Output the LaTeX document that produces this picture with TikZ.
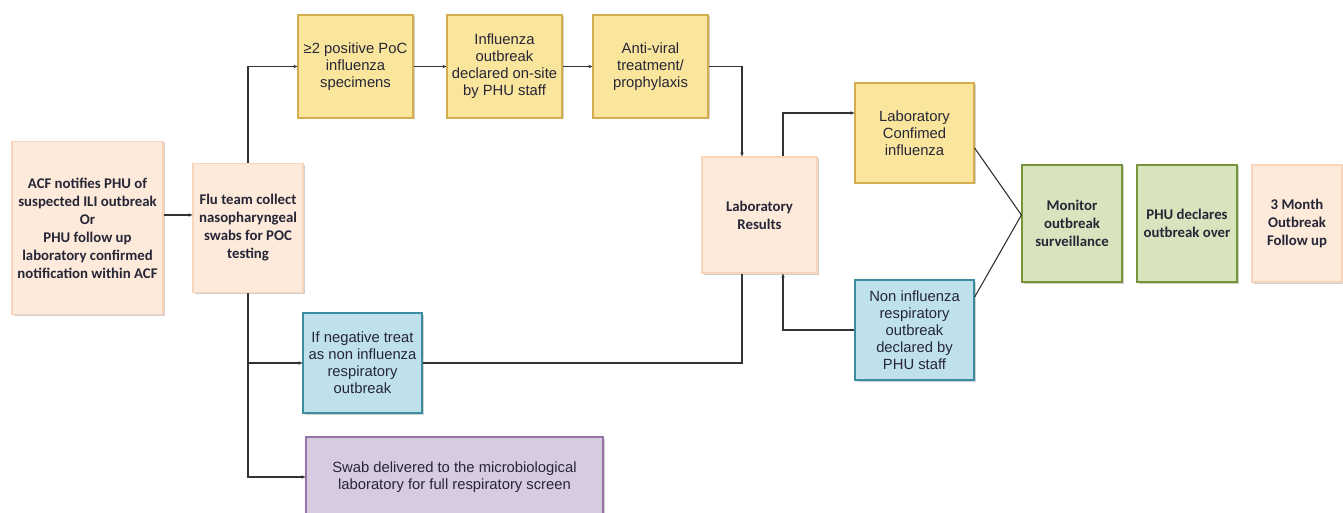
\documentclass[tikz,border=0pt]{standalone}
\usepackage{fontspec}
\setmainfont{Carlito}
\newfontfamily\arialfont{Liberation Sans}
\usetikzlibrary{arrows.meta,positioning,shadows}
\definecolor{ifpeach}{HTML}{FDEADA}
\definecolor{ifpeachline}{HTML}{F8D5BA}
\definecolor{ifyellow}{HTML}{FAE59C}
\definecolor{ifyellowline}{HTML}{D2AE4E}
\definecolor{ifblue}{HTML}{BEE1EC}
\definecolor{ifblueline}{HTML}{3B8DA0}
\definecolor{ifpurple}{HTML}{D6CBE0}
\definecolor{ifpurpleline}{HTML}{9673A6}
\definecolor{ifgreen}{HTML}{D8E4BE}
\definecolor{ifgreenline}{HTML}{77933C}
\definecolor{iftext}{HTML}{262637}

\begin{document}
\begin{tikzpicture}[x=1pt, y=-1pt,
    box/.style={draw, line width=1.2pt, rectangle, align=center, inner sep=2pt, text=iftext,
      drop shadow={shadow xshift=1.5pt, shadow yshift=-1.5pt, fill=black, opacity=0.18}},
    peachbox/.style={box, fill=ifpeach, draw=ifpeachline, font=\fontsize{14.8}{18}\selectfont\bfseries},
    greenbox/.style={box, fill=ifgreen, draw=ifgreenline, font=\fontsize{14.8}{18}\selectfont\bfseries},
    yellowbox/.style={box, fill=ifyellow, draw=ifyellowline, font=\arialfont\fontsize{14.8}{17}\selectfont},
    bluebox/.style={box, fill=ifblue, draw=ifblueline, font=\arialfont\fontsize{14.8}{17}\selectfont},
    purplebox/.style={box, fill=ifpurple, draw=ifpurpleline, font=\arialfont\fontsize{14.8}{17}\selectfont},
    conn/.style={-{Stealth[length=4pt, width=3.5pt]}, line width=1.1pt, draw=black!80},
    plainline/.style={line width=1.1pt, draw=black!80}]
      \useasboundingbox (0,0) rectangle (1343,513);

      % Start of the outbreak
      \node[peachbox, minimum width=151pt, minimum height=173pt] (acf) at (87.5,228)
        {ACF notifies PHU of\\suspected ILI outbreak\\Or\\PHU follow up\\laboratory confirmed\\notification within ACF};
      \node[peachbox, minimum width=110pt, minimum height=129pt] (flu) at (248,228)
        {Flu team collect\\nasopharyngeal\\swabs for POC\\testing};

      % Positive PoC branch
      \node[yellowbox, minimum width=115pt, minimum height=103pt] (pos) at (355.5,66.5)
        {≥2 positive PoC\\influenza\\specimens};
      \node[yellowbox, minimum width=115pt, minimum height=103pt] (decl) at (504.5,66.5)
        {Influenza\\outbreak\\declared on-site\\by PHU staff};
      \node[yellowbox, minimum width=115pt, minimum height=103pt] (anti) at (650.5,66.5)
        {Anti-viral\\treatment/\\prophylaxis};

      % Negative PoC branch
      \node[bluebox, minimum width=119pt, minimum height=100pt] (neg) at (362.5,363)
        {If negative treat\\as non influenza\\respiratory\\outbreak};
      \node[purplebox, minimum width=297pt, minimum height=80pt] (swab) at (454.5,477)
        {Swab delivered to the microbiological\\laboratory for full respiratory screen};

      % Laboratory
      \node[peachbox, minimum width=115pt, minimum height=116pt] (lab) at (759.5,215)
        {Laboratory\\Results};
      \node[yellowbox, minimum width=119pt, minimum height=100pt] (conf) at (914.5,133)
        {Laboratory\\Confimed\\influenza};
      \node[bluebox, minimum width=119pt, minimum height=100pt] (noninf) at (914.5,330)
        {Non influenza\\respiratory\\outbreak\\declared by\\PHU staff};

      % End of the outbreak
      \node[greenbox, minimum width=100pt, minimum height=117pt] (mon) at (1072,223.5)
        {Monitor\\outbreak\\surveillance};
      \node[greenbox, minimum width=100pt, minimum height=117pt] (over) at (1187,223.5)
        {PHU declares\\outbreak over};
      \node[peachbox, minimum width=90pt, minimum height=117pt] (month) at (1297,223.5)
        {3 Month\\Outbreak\\Follow up};

      % Arrows
      \draw[conn] ([yshift=13pt]acf.east) -- ([yshift=13pt]flu.west);
      \draw[conn] (flu.north) |- (pos.west);
      \draw[conn] (pos) -- (decl);
      \draw[conn] (decl) -- (anti);
      \draw[conn] (anti.east) -| ([xshift=-17.5pt]lab.north);
      \draw[conn] (flu.south) |- (neg.west);
      \draw[conn] (flu.south) |- (swab.west);
      \draw[plainline] (neg.east) -| ([xshift=-17.5pt]lab.south);
      \draw[conn] ([xshift=23.5pt]lab.north) |- ([yshift=20pt]conf.west);
      \draw[conn] (noninf.west) -| ([xshift=23.5pt]lab.south);
      \draw[plainline] ([yshift=-15pt]conf.east) -- ([yshift=8.5pt]mon.west);
      \draw[plainline] ([yshift=33pt]noninf.east) -- ([yshift=8.5pt]mon.west);
    \end{tikzpicture}
\end{document}
